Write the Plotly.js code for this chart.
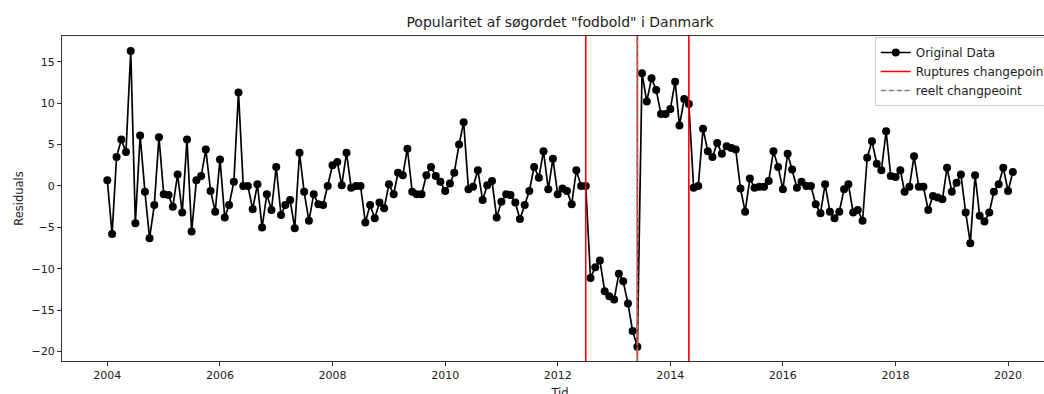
<!DOCTYPE html>
<html>
<head>
<meta charset="utf-8">
<script src="https://cdn.plot.ly/plotly-3.0.1.min.js"></script>
<style>
  html, body { margin: 0; padding: 0; overflow: hidden; background: #ffffff; }
  #chart { width: 1080px; height: 410px; }
</style>
</head>
<body>
<div id="chart"></div>
<script>
// Monthly residuals of the search interest for "fodbold", one array per year (Jan..Dec)
const r2004 = [0.7, -5.8, 3.5, 5.6, 4.1, 16.3, -4.5, 6.1, -0.7, -6.3, -2.3, 5.9];
const r2005 = [-1.0, -1.1, -2.5, 1.4, -3.2, 5.6, -5.5, 0.7, 1.2, 4.4, -0.6, -3.1];
const r2006 = [3.2, -3.8, -2.3, 0.5, 11.3, 0.0, 0.0, -2.8, 0.2, -5.0, -1.0, -2.9];
const r2007 = [2.3, -3.5, -2.3, -1.7, -5.1, 4.0, -0.7, -4.2, -1.0, -2.2, -2.3, 0.0];
const r2008 = [2.5, 2.9, 0.1, 4.0, -0.2, 0.0, 0.0, -4.4, -2.3, -3.9, -2.0, -2.7];
const r2009 = [0.2, -1.0, 1.6, 1.3, 4.5, -0.7, -1.0, -1.0, 1.3, 2.3, 1.2, 0.5];
const r2010 = [-0.6, 0.3, 1.6, 5.0, 7.7, -0.4, -0.1, 1.9, -1.7, 0.1, 0.6, -3.8];
const r2011 = [-1.9, -1.0, -1.1, -2.0, -4.0, -2.3, -0.6, 2.3, 1.0, 4.2, -0.4, 3.3];
const r2012 = [-1.0, -0.3, -0.6, -2.2, 1.9, 0.0, 0.0, -11.1, -9.8, -9.0, -12.7, -13.3];
const r2013 = [-13.7, -10.6, -11.5, -14.2, -17.5, -19.4, 13.6, 10.2, 13.0, 11.6, 8.7, 8.7];
const r2014 = [9.3, 12.6, 7.3, 10.5, 9.9, -0.2, 0.0, 6.9, 4.2, 3.5, 5.2, 3.9];
const r2015 = [4.8, 4.6, 4.4, -0.3, -3.1, 0.9, -0.2, -0.1, -0.1, 0.6, 4.2, 2.3];
const r2016 = [-0.4, 3.9, 2.0, -0.2, 0.5, 0.0, 0.0, -2.2, -3.3, 0.2, -3.1, -3.9];
const r2017 = [-3.1, -0.4, 0.2, -3.2, -2.9, -4.2, 3.4, 5.4, 2.7, 1.9, 6.6, 1.2];
const r2018 = [1.1, 1.9, -0.7, -0.1, 3.6, -0.1, -0.1, -2.9, -1.2, -1.4, -1.6, 2.2];
const r2019 = [-0.7, 0.4, 1.4, -3.2, -6.9, 1.3, -3.6, -4.3, -3.2, -0.7, 0.2, 2.2];
const r2020 = [-0.6, 1.7];

const residualsByYear = [
  [2004, r2004], [2005, r2005], [2006, r2006], [2007, r2007], [2008, r2008],
  [2009, r2009], [2010, r2010], [2011, r2011], [2012, r2012], [2013, r2013],
  [2014, r2014], [2015, r2015], [2016, r2016], [2017, r2017], [2018, r2018],
  [2019, r2019], [2020, r2020]
];

// Change points found by ruptures, and the actual one
const rupturesChangepoints = ['2012-07-01', '2013-06-01', '2014-05-01'];
const actualChangepoints = ['2013-06-01'];

// Axis tick years
const tickYears = [2004, 2006, 2008, 2010, 2012, 2014, 2016, 2018, 2020];

// Build the monthly time axis from the yearly arrays
const dates = [];
const residuals = [];
residualsByYear.forEach(([year, vals]) => {
  vals.forEach((v, m) => {
    dates.push(year + '-' + String(m + 1).padStart(2, '0') + '-01');
    residuals.push(v);
  });
});

const yRange = [-21.13, 18.11];

// Vertical lines spanning the full y range, broken apart with nulls
function vlines(xs) {
  const x = [], y = [];
  xs.forEach((d, k) => {
    if (k > 0) { x.push(null); y.push(null); }
    x.push(d, d);
    y.push(yRange[0], yRange[1]);
  });
  return { x, y };
}

const rupt = vlines(rupturesChangepoints);
const actual = vlines(actualChangepoints);

const font = 'DejaVu Sans, sans-serif';
const ink = '#222222';

const traces = [
  {
    x: dates, y: residuals,
    type: 'scatter', mode: 'lines+markers',
    name: 'Original Data',
    line: { color: '#000000', width: 1.7 },
    marker: { color: '#000000', size: 8 },
    hoverinfo: 'skip'
  },
  {
    x: rupt.x, y: rupt.y,
    type: 'scatter', mode: 'lines',
    name: 'Ruptures changepoint',
    line: { color: '#ff0000', width: 1.6 },
    connectgaps: false,
    hoverinfo: 'skip'
  },
  {
    x: actual.x, y: actual.y,
    type: 'scatter', mode: 'lines',
    name: 'reelt changpeoint',
    line: { color: '#808080', width: 1.6, dash: '5.5px,2.4px' },
    hoverinfo: 'skip'
  }
];

const layout = {
  width: 1080,
  height: 410,
  margin: { l: 62, r: 22, t: 36, b: 49 },
  paper_bgcolor: '#ffffff',
  plot_bgcolor: '#ffffff',
  font: { family: font, color: ink, size: 11 },
  title: {
    text: 'Popularitet af søgordet "fodbold" i Danmark',
    x: 0.5, xref: 'paper', xanchor: 'center',
    y: 1 - 22 / 410, yref: 'container', yanchor: 'middle',
    font: { family: font, size: 14, color: ink }
  },
  xaxis: {
    type: 'date',
    range: ['2003-03-13', '2020-11-20'],
    tickvals: tickYears.map(y => y + '-01-01'),
    ticktext: tickYears.map(String),
    ticks: 'outside', ticklen: 4, tickwidth: 1, tickcolor: '#333333',
    showline: true, linecolor: '#333333', linewidth: 1, mirror: true,
    showgrid: false, zeroline: false,
    tickfont: { family: font, size: 11, color: ink },
    title: { text: 'Tid', standoff: 7, font: { family: font, size: 11.5, color: ink } }
  },
  yaxis: {
    range: yRange,
    tick0: 0, dtick: 5,
    ticks: 'outside', ticklen: 4, tickwidth: 1, tickcolor: '#333333',
    showline: true, linecolor: '#333333', linewidth: 1, mirror: true,
    showgrid: false, zeroline: false,
    tickfont: { family: font, size: 11, color: ink },
    title: { text: 'Residuals', standoff: 5, font: { family: font, size: 11.5, color: ink } }
  },
  showlegend: true,
  legend: {
    x: 0.816, xanchor: 'left',
    y: 0.997, yanchor: 'top',
    bgcolor: 'rgba(255,255,255,0.8)',
    bordercolor: '#cccccc', borderwidth: 1,
    font: { family: font, size: 12, color: ink }
  }
};

Plotly.newPlot('chart', traces, layout, { displayModeBar: false, staticPlot: true });
</script>
</body>
</html>
